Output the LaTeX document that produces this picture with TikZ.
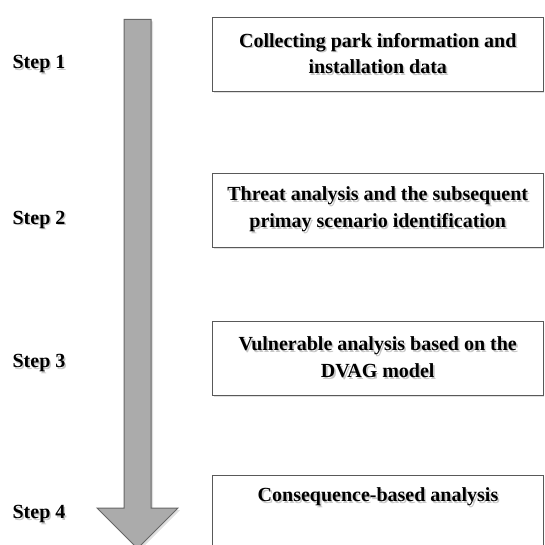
\documentclass[tikz,border=0pt]{standalone}
\usepackage{fontspec}
\setmainfont{Liberation Serif}
\usetikzlibrary{shadows}
% one line of bold text with a soft grey shadow behind it
\newcommand\sline[1]{\leavevmode\rlap{\hspace{1.6pt}\raisebox{-1.6pt}{\textcolor{black!22}{#1}}}#1}
\begin{document}
\begin{tikzpicture}[x=1pt,y=-1pt,
  every node/.style={font=\fontsize{20}{26.5}\selectfont\bfseries},
  steplabel/.style={inner sep=0pt},
  stagebox/.style={draw=black!65, line width=1.1pt, fill=white, inner sep=0pt,
    minimum width=331pt, minimum height=74pt, anchor=north west, align=center,
    drop shadow={shadow xshift=2pt, shadow yshift=-2pt, fill=black!12, opacity=1}},
  flowarrow/.style={draw=black!60, line width=1pt, fill=black!33,
    drop shadow={shadow xshift=2pt, shadow yshift=-2pt, fill=black!12, opacity=1}}]
\useasboundingbox (0,0) rectangle (544,545);
\clip (0,0) rectangle (544,545);

% big downward process arrow
\path[flowarrow] (124,19.5) -- (151,19.5) -- (151,508) -- (178,508)
  -- (137.5,548.5) -- (97,508) -- (124,508) -- cycle;

% step labels
\node[steplabel] (s1) at (39,65) {\sline{Step 1}};
\node[steplabel] (s2) at (39,220.5) {\sline{Step 2}};
\node[steplabel] (s3) at (39,364) {\sline{Step 3}};
\node[steplabel] (s4) at (39,515) {\sline{Step 4}};

% stage boxes
\node[stagebox] (b1) at (211.7,16.7)
  {\sline{Collecting park information and}\\\sline{installation data}};
\node[stagebox] (b2) at (211.7,172.7)
  {\sline{Threat analysis and the subsequent}\\\sline{primay scenario identification}};
\node[stagebox] (b3) at (211.7,320.7)
  {\sline{Vulnerable analysis based on the}\\\sline{DVAG model}};
\node[stagebox, minimum height=90pt] (b4) at (211.7,474.5) {};
\node[inner sep=0pt] (t4) at (378,498) {\sline{Consequence-based analysis}};
\end{tikzpicture}
\end{document}
